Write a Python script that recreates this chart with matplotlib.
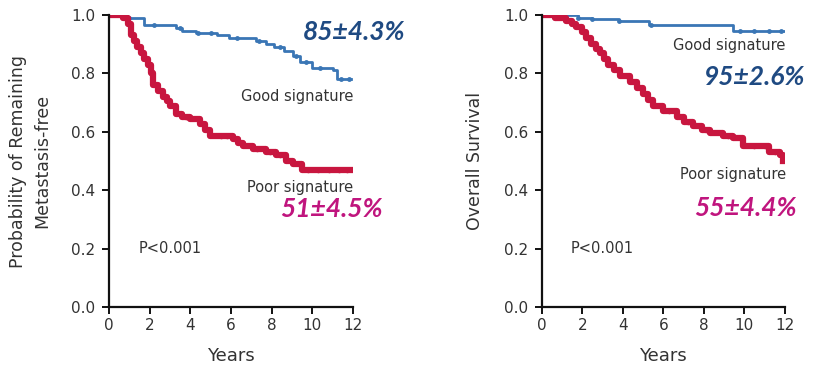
import matplotlib
matplotlib.use("Agg")
import matplotlib.pyplot as plt
import numpy as np

# ---- data ----
# left: metastasis-free
mf_good_t = [0, 0.9, 1.7, 3.3, 3.6, 4.3, 5.3, 5.9, 7.25, 7.7, 8.1, 8.6, 9.05, 9.4, 10.0, 11.0, 11.2, 11.9]
mf_good_s = [1.0, 0.99, 0.966, 0.955, 0.945, 0.937, 0.93, 0.92, 0.91, 0.90, 0.89, 0.875, 0.86, 0.84, 0.82, 0.81, 0.78, 0.78]
mf_good_cens = [1.0, 2.2, 3.5, 4.4, 5.0, 6.3, 7.4, 8.4, 9.2, 9.7, 10.4, 11.4, 11.8]

mf_poor_t = [0, 0.7, 0.95, 1.1, 1.25, 1.36, 1.55, 1.7, 1.93, 2.05, 2.18, 2.4, 2.67, 2.85, 3.0, 3.3, 3.6, 4.0,
             4.47, 4.7, 4.96, 6.1, 6.35, 6.6, 7.1, 7.7, 8.2, 8.7, 9.05, 9.5, 12]
mf_poor_s = [1.0, 0.99, 0.97, 0.93, 0.91, 0.89, 0.87, 0.85, 0.83, 0.80, 0.76, 0.74, 0.72, 0.705, 0.69, 0.66, 0.65, 0.645,
             0.625, 0.605, 0.585, 0.575, 0.56, 0.55, 0.54, 0.53, 0.52, 0.50, 0.49, 0.47, 0.47]
mf_poor_cens = [3.8, 5.5, 5.8, 7.3, 7.9, 8.4, 9.8, 10.3, 10.8, 11.3, 11.7]

# right: overall survival
os_good_t = [0, 1.8, 2.5, 3.8, 5.3, 9.45, 12]
os_good_s = [1.0, 0.99, 0.985, 0.98, 0.967, 0.946, 0.946]
os_good_cens = [1.8, 2.5, 3.8, 5.4, 9.8, 10.5, 11.2, 11.8]

os_poor_t = [0, 0.65, 1.2, 1.5, 1.7, 2.0, 2.2, 2.45, 2.65, 2.86, 3.05, 3.28, 3.55, 3.85, 4.35, 4.7, 5.0, 5.25, 5.5,
             6.0, 6.65, 7.0, 7.47, 7.9, 8.3, 8.95, 9.45, 9.95, 11.2, 11.75, 11.9]
os_poor_s = [1.0, 0.99, 0.98, 0.97, 0.96, 0.94, 0.92, 0.90, 0.885, 0.87, 0.85, 0.83, 0.81, 0.79, 0.77, 0.75, 0.73, 0.71, 0.69,
             0.67, 0.65, 0.635, 0.62, 0.605, 0.595, 0.585, 0.58, 0.55, 0.532, 0.52, 0.50]
os_poor_cens = [4.2, 6.3, 7.2, 8.1, 9.2, 10.5, 11.0, 11.5]

xticks = [0, 2, 4, 6, 8, 10, 12]
yticks = [0.0, 0.2, 0.4, 0.6, 0.8, 1.0]

BLUE = "#3a76b5"
RED = "#c8163f"
TXT_BLUE = "#1f4a82"
TXT_MAG = "#c0157e"
GRAY = "#333333"


def step_at(t, s, x):
    i = np.searchsorted(t, x, side="right") - 1
    return np.array(s)[i]


def km(ax, t, s, cens, color, lw, ms):
    ax.plot(t, s, drawstyle="steps-post", color=color, lw=lw, solid_joinstyle="round")
    c = np.array(cens)
    ax.plot(c, step_at(t, s, c), "o", color=color, ms=ms, mew=0)


fig = plt.figure(figsize=(8.21, 3.74), dpi=100)
ax1 = fig.add_axes([0.1328, 0.179, 0.2972, 0.781])
ax2 = fig.add_axes([0.660, 0.179, 0.296, 0.781])

for ax in (ax1, ax2):
    ax.set_xlim(0, 12)
    ax.set_ylim(0, 1.0)
    ax.set_xticks(xticks)
    ax.set_yticks(yticks)
    ax.set_yticklabels(["%.1f" % v for v in yticks])
    for sp in ("top", "right"):
        ax.spines[sp].set_visible(False)
    for sp in ("left", "bottom"):
        ax.spines[sp].set_linewidth(1.6)
        ax.spines[sp].set_color("#111111")
    ax.tick_params(direction="out", length=5, width=1.4, colors="#111111", labelcolor=GRAY, labelsize=11)
    ax.tick_params(axis="y", pad=5)
    ax.tick_params(axis="x", pad=3)
    ax.set_xlabel("Years", fontsize=13, color=GRAY, labelpad=10)

km(ax1, mf_good_t, mf_good_s, mf_good_cens, BLUE, 2, 3.5)
km(ax1, mf_poor_t, mf_poor_s, mf_poor_cens, RED, 4.5, 4)
km(ax2, os_good_t, os_good_s, os_good_cens, BLUE, 2, 3.5)
km(ax2, os_poor_t, os_poor_s, os_poor_cens, RED, 4.5, 4)

ax1.set_ylabel("Probability of Remaining\nMetastasis-free", fontsize=12.5, color=GRAY, labelpad=14, linespacing=1.45)
ax2.set_ylabel("Overall Survival", fontsize=12.5, color=GRAY, labelpad=14)

small = dict(fontsize=10.5, color=GRAY)
big = dict(fontsize=19, fontweight="bold", fontstyle="italic", family="Lato")

ax1.text(12.0, 0.72, "Good signature", ha="right", va="center", **small)
ax1.text(12.0, 0.41, "Poor signature", ha="right", va="center", **small)
ax1.text(3.0, 0.2, "P<0.001", ha="center", va="center", **small)
fig.text(405 / 821, 1 - 32 / 374, "85±4.3%", ha="right", va="center", color=TXT_BLUE, **big)
fig.text(383 / 821, 1 - 209 / 374, "51±4.5%", ha="right", va="center", color=TXT_MAG, **big)

ax2.text(12.0, 0.895, "Good signature", ha="right", va="center", **small)
ax2.text(12.05, 0.455, "Poor signature", ha="right", va="center", **small)
ax2.text(3.0, 0.2, "P<0.001", ha="center", va="center", **small)
fig.text(805 / 821, 1 - 77 / 374, "95±2.6%", ha="right", va="center", color=TXT_BLUE, **big)
fig.text(797 / 821, 1 - 208 / 374, "55±4.4%", ha="right", va="center", color=TXT_MAG, **big)

fig.savefig("out.png", dpi=100)
